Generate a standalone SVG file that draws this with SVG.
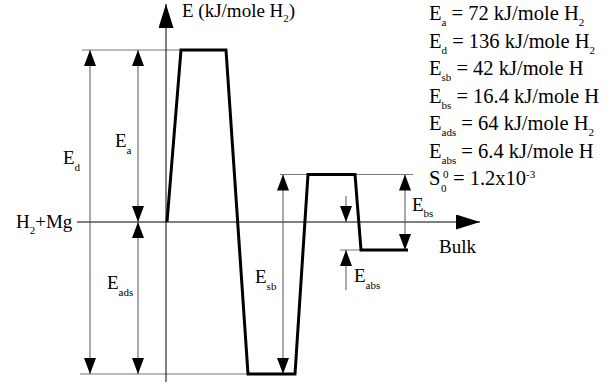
<svg xmlns="http://www.w3.org/2000/svg" width="608" height="386" viewBox="0 0 608 386">
<defs>
<style>
text{font-family:"Liberation Serif","Times New Roman",serif;fill:#000;font-size:19px}
.sub{font-size:11px}
.leg{font-size:20.5px}
.ref{stroke:#777;stroke-width:1;fill:none}
.dim{stroke:#555;stroke-width:1;fill:none}
.axis{stroke:#000;stroke-width:1;fill:none}
.curve{stroke:#000;stroke-width:3;fill:none;stroke-linejoin:miter}
</style>
<marker id="ah" viewBox="0 0 16 12" refX="16" refY="6" markerWidth="16" markerHeight="12" markerUnits="userSpaceOnUse" orient="auto-start-reverse">
<path d="M0,0 L16,6 L0,12 z" fill="#000"/>
</marker>
<marker id="axh" viewBox="0 0 24 15" refX="24" refY="7.5" markerWidth="24" markerHeight="15" markerUnits="userSpaceOnUse" orient="auto">
<path d="M0,0 L24,7.5 L0,15 z" fill="#000"/>
</marker>
</defs>

<g id="connectors">
<line class="ref" x1="82" y1="50" x2="182" y2="50"/>
<line class="ref" x1="80" y1="374" x2="248" y2="374"/>
<line class="ref" x1="280" y1="174.5" x2="413" y2="174.5"/>
<line class="ref" x1="340" y1="250" x2="362" y2="250"/>
<line class="axis" x1="166" y1="382" x2="166" y2="4" marker-end="url(#axh)"/>
<line class="axis" x1="77" y1="222" x2="480" y2="222" marker-end="url(#axh)"/>
<line class="dim" x1="90" y1="50" x2="90" y2="374" marker-start="url(#ah)" marker-end="url(#ah)"/>
<line class="dim" x1="138" y1="50" x2="138" y2="222" marker-start="url(#ah)" marker-end="url(#ah)"/>
<line class="dim" x1="138" y1="222" x2="138" y2="374" marker-start="url(#ah)" marker-end="url(#ah)"/>
<line class="dim" x1="283" y1="174.5" x2="283" y2="374" marker-start="url(#ah)" marker-end="url(#ah)"/>
<line class="dim" x1="405" y1="174.5" x2="405" y2="250" marker-start="url(#ah)" marker-end="url(#ah)"/>
<line class="dim" x1="346" y1="196" x2="346" y2="222" marker-end="url(#ah)"/>
<line class="dim" x1="346" y1="290" x2="346" y2="250" marker-end="url(#ah)"/>
<polyline class="curve" points="167,222 181,50 226,50 248,374 295,374 308,174.5 355,174.5 361,250 408,250"/>
</g>

<g id="axis-label">
<text x="182" y="17">E (kJ/mole H<tspan class="sub" dy="5">2</tspan><tspan dy="-5">)</tspan></text>
</g>
<g id="label-h2mg">
<text x="16" y="228">H<tspan class="sub" dy="6">2</tspan><tspan dy="-6">+Mg</tspan></text>
</g>
<g id="label-bulk">
<text x="439" y="253">Bulk</text>
</g>
<g id="label-Ed"><text x="63" y="164">E<tspan class="sub" dy="7">d</tspan></text></g>
<g id="label-Ea"><text x="115" y="147">E<tspan class="sub" dy="7">a</tspan></text></g>
<g id="label-Eads"><text x="107" y="289">E<tspan class="sub" dy="7">ads</tspan></text></g>
<g id="label-Esb"><text x="255" y="283">E<tspan class="sub" dy="7">sb</tspan></text></g>
<g id="label-Ebs"><text x="412" y="211">E<tspan class="sub" dy="6">bs</tspan></text></g>
<g id="label-Eabs"><text x="354" y="282">E<tspan class="sub" dy="7">abs</tspan></text></g>

<g id="legend">
<text class="leg" x="429" y="20">E<tspan class="sub" dy="6">a</tspan><tspan dy="-6"> = 72 kJ/mole H</tspan><tspan class="sub" dy="6">2</tspan></text>
<text class="leg" x="429" y="47.5">E<tspan class="sub" dy="6">d</tspan><tspan dy="-6"> = 136 kJ/mole H</tspan><tspan class="sub" dy="6">2</tspan></text>
<text class="leg" x="429" y="75">E<tspan class="sub" dy="6">sb</tspan><tspan dy="-6"> = 42 kJ/mole H</tspan></text>
<text class="leg" x="429" y="102.5">E<tspan class="sub" dy="6">bs</tspan><tspan dy="-6"> = 16.4 kJ/mole H</tspan></text>
<text class="leg" x="429" y="130">E<tspan class="sub" dy="6">ads</tspan><tspan dy="-6"> = 64 kJ/mole H</tspan><tspan class="sub" dy="6">2</tspan></text>
<text class="leg" x="429" y="157.5">E<tspan class="sub" dy="6">abs</tspan><tspan dy="-6"> = 6.4 kJ/mole H</tspan></text>
<text class="leg" x="429" y="185">S</text>
<text class="sub" x="441" y="192">0</text>
<text class="sub" x="443" y="178">0</text>
<text class="leg" x="453" y="185">= 1.2x10<tspan class="sub" dy="-7">-3</tspan></text>
</g>
</svg>
